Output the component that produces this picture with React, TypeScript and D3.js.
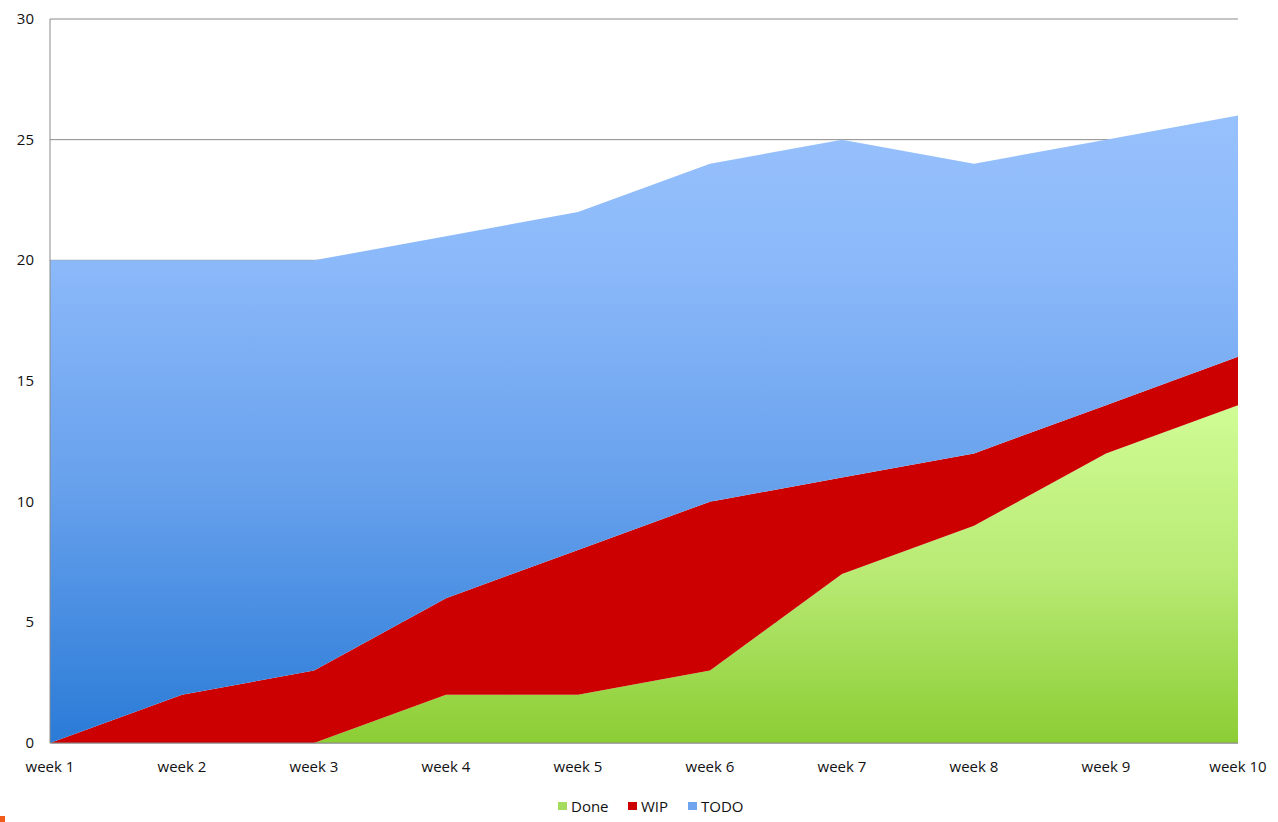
import React from "react";
import * as d3 from "d3";

const weeks = ["week 1", "week 2", "week 3", "week 4", "week 5", "week 6", "week 7", "week 8", "week 9", "week 10"];
const done = [0, 0, 0, 2, 2, 3, 7, 9, 12, 14];
const wip = [0, 2, 3, 4, 6, 7, 4, 3, 2, 2];
const todo = [20, 18, 17, 15, 14, 14, 14, 12, 11, 10];
const yTicks = [0, 5, 10, 15, 20, 25, 30];
const seriesNames = ["Done", "WIP", "TODO"];

const W = 1278, H = 822;
const left = 50, right = 1238, top = 19, bottom = 743;

export default function App() {
  const x = d3.scalePoint<string>().domain(weeks).range([left, right]);
  const y = d3.scaleLinear().domain([0, 30]).range([bottom, top]);
  const rows = weeks.map((w, i) => ({ week: w, Done: done[i], WIP: wip[i], TODO: todo[i] }));
  const stack = d3.stack<any>().keys(seriesNames)(rows);
  const area = d3.area<any>()
    .x((d) => x(d.data.week)!)
    .y0((d) => y(d[0]))
    .y1((d) => y(d[1]));
  const fills = ["url(#gDone)", "#cc0000", "url(#gTodo)"];
  const legendColors = ["#a6dc5e", "#cc0000", "#6fa5ee"];
  const font = "'Open Sans', 'DejaVu Sans', sans-serif";
  const legendItems = [
    { name: "Done", x: 558 },
    { name: "WIP", x: 628 },
    { name: "TODO", x: 688 },
  ];
  return (
    <svg width={W} height={H} style={{ position: "absolute", left: 0, top: 0, background: "#fff" }} fontFamily={font}>
      <defs>
        <linearGradient id="gTodo" x1="0" y1="0" x2="0" y2="1" gradientUnits="objectBoundingBox">
          <stop offset="0" stopColor="#97c1fc" />
          <stop offset="0.25" stopColor="#8ab8f9" />
          <stop offset="0.6" stopColor="#66a0ec" />
          <stop offset="1" stopColor="#2a7bd7" />
        </linearGradient>
        <linearGradient id="gDone" x1="0" y1="0" x2="0" y2="1" gradientUnits="objectBoundingBox">
          <stop offset="0" stopColor="#d0fc95" />
          <stop offset="0.5" stopColor="#b8ea74" />
          <stop offset="1" stopColor="#8ccd34" />
        </linearGradient>
      </defs>
      {yTicks.map((t) => (
        <g key={t}>
          <line x1={left} x2={right} y1={y(t)} y2={y(t)} stroke="#8a8a8a" strokeWidth={1} />
          <text x={34} y={y(t) + 5} textAnchor="end" fontSize={15} fill="#111">{t}</text>
        </g>
      ))}
      {stack.map((s, i) => (
        <path key={seriesNames[i]} d={area(s as any) || ""} fill={fills[i]} />
      ))}
      <line x1={left} x2={left} y1={top} y2={bottom} stroke="#8a8a8a" strokeWidth={1} />
      <line x1={left} x2={right} y1={bottom} y2={bottom} stroke="#8a8a8a" strokeWidth={1} />
      {weeks.map((w) => (
        <text key={w} x={x(w)!} y={772} textAnchor="middle" fontSize={15} fill="#111">{w}</text>
      ))}
      {legendItems.map((it, i) => (
        <g key={it.name}>
          <rect x={it.x} y={802} width={9} height={8} fill={legendColors[i]} />
          <text x={it.x + 13} y={812} fontSize={15} fill="#111">{it.name}</text>
        </g>
      ))}
      <rect x={0} y={816} width={5} height={6} fill="#f05a1a" />
    </svg>
  );
}
